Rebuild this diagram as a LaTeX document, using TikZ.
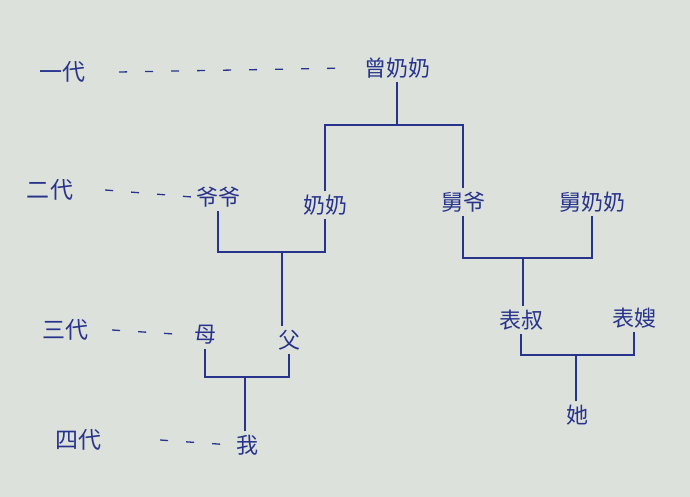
\documentclass[tikz,border=0pt]{standalone}
\usepackage{fontspec}
\newfontfamily\cjk{Noto Sans CJK SC}
\usetikzlibrary{positioning}
\definecolor{paper}{RGB}{221,225,219}
\definecolor{ink}{RGB}{40,52,140}
\tikzset{
person/.style={text=ink, font=\cjk\fontsize{22}{24}\selectfont, inner sep=4pt}, % the names in the tree
gen/.style={text=ink, font=\cjk\fontsize{23}{25}\selectfont, inner sep=4pt}, % generation labels on the left
link/.style={draw=ink, line width=1.5pt}, % tree lines
lead/.style={draw=ink, line width=1.3pt, dash pattern=on 8pt off 18pt}, % dotted guide from label to name
}

\begin{document}
\begin{tikzpicture}[x=1pt, y=-1pt]
    \fill[paper] (0,0) rectangle (690,497);
    \useasboundingbox (0,0) rectangle (690,497);

      % generations
      \node[gen] (g1) at (62,72) {一代};
      \node[gen] (g2) at (50,190) {二代};
      \node[gen] (g3) at (65,330) {三代};
      \node[gen] (g4) at (78,440) {四代};

      % people
      \node[person] (zeng) at (397,68) {曾奶奶};
      \node[person] (yeye) at (218,197) {爷爷};
      \node[person] (nainai) at (325,205) {奶奶};
      \node[person] (jiuye) at (463,202) {舅爷};
      \node[person] (jiunai) at (592,202) {舅奶奶};
      \node[person] (mu) at (205,335) {母};
      \node[person] (fu) at (289,340) {父};
      \node[person] (biaoshu) at (521,320) {表叔};
      \node[person] (biaosao) at (634,318) {表嫂};
      \node[person] (wo) at (247,445) {我};
      \node[person] (ta) at (577,415) {她};

      % junctions
      \coordinate (c1) at (397,125);
      \coordinate (c2) at (282,252);
      \coordinate (c3) at (523,258);
      \coordinate (c4) at (245,377);
      \coordinate (c5) at (576,355);

      \draw[lead] (g1.east) ++(30,0) -- ([xshift=-10pt]zeng.west);
      \draw[lead] (g2.east) ++(28,0) -- (yeye.west);
      \draw[lead] (g3.east) ++(20,0) -- (mu.west);
      \draw[lead] (g4.east) ++(55,0) -- (wo.west);

      \draw[link] (zeng) -- (c1);
      \draw[link] (nainai.north) |- (c1) -| (jiuye.north);
      \draw[link] (yeye.south) |- (c2) -| (nainai.south);
      \draw[link] (c2) -- (c2 |- fu.north);
      \draw[link] (jiuye.south) |- (c3) -| (jiunai.south);
      \draw[link] (c3) -- (c3 |- biaoshu.north);
      \draw[link] (mu.south) |- (c4) -| (fu.south);
      \draw[link] (c4) -- (c4 |- wo.north);
      \draw[link] (biaoshu.south) |- (c5) -| (biaosao.south);
      \draw[link] (c5) -- (c5 |- ta.north);
\end{tikzpicture}
\end{document}
